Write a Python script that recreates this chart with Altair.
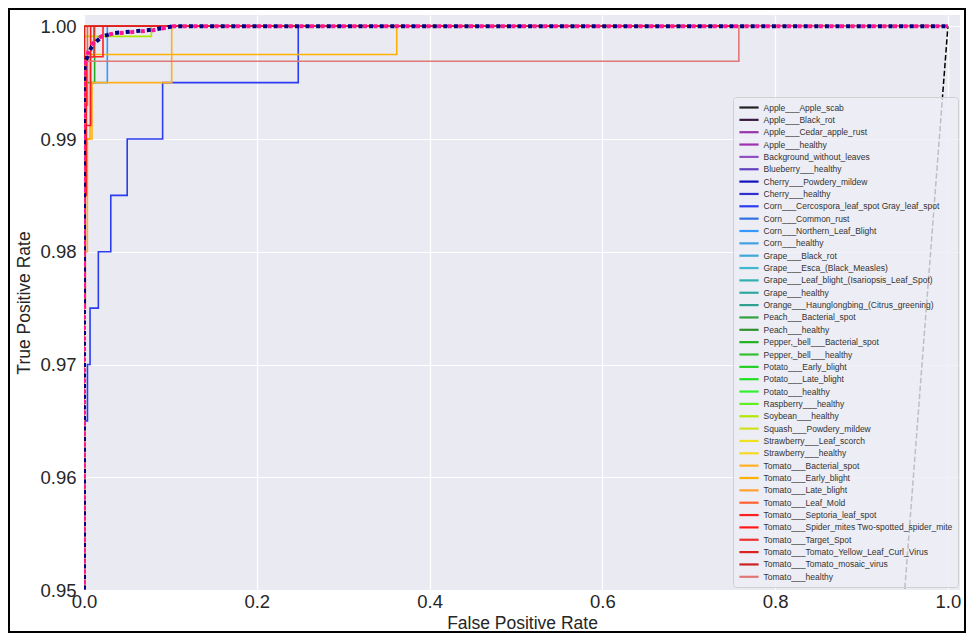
import altair as alt
import pandas as pd

classes = [
    "Apple___Apple_scab", "Apple___Black_rot", "Apple___Cedar_apple_rust", "Apple___healthy",
    "Background_without_leaves", "Blueberry___healthy", "Cherry___Powdery_mildew", "Cherry___healthy",
    "Corn___Cercospora_leaf_spot Gray_leaf_spot", "Corn___Common_rust", "Corn___Northern_Leaf_Blight",
    "Corn___healthy", "Grape___Black_rot", "Grape___Esca_(Black_Measles)",
    "Grape___Leaf_blight_(Isariopsis_Leaf_Spot)", "Grape___healthy",
    "Orange___Haunglongbing_(Citrus_greening)", "Peach___Bacterial_spot", "Peach___healthy",
    "Pepper,_bell___Bacterial_spot", "Pepper,_bell___healthy", "Potato___Early_blight",
    "Potato___Late_blight", "Potato___healthy", "Raspberry___healthy", "Soybean___healthy",
    "Squash___Powdery_mildew", "Strawberry___Leaf_scorch", "Strawberry___healthy",
    "Tomato___Bacterial_spot", "Tomato___Early_blight", "Tomato___Late_blight", "Tomato___Leaf_Mold",
    "Tomato___Septoria_leaf_spot", "Tomato___Spider_mites Two-spotted_spider_mite",
    "Tomato___Target_Spot", "Tomato___Tomato_Yellow_Leaf_Curl_Virus", "Tomato___Tomato_mosaic_virus",
    "Tomato___healthy",
]

colors = [
    "#222222", "#3a1a40", "#9933aa", "#a030b0", "#9050c0", "#6040c0", "#1010c0", "#3030d0",
    "#2b3cf0", "#3070e0", "#3399ff", "#40a0e0", "#40a8d8", "#40b8d0", "#30b0b0", "#30a8a0",
    "#30a090", "#30a040", "#309030", "#20b020", "#30c030", "#20d020", "#20e020", "#30f030",
    "#60f020", "#b0e800", "#d0e020", "#f0e020", "#f8d820", "#ffb020", "#ffb000", "#ffa030",
    "#ff6030", "#ff2020", "#ff1a1a", "#ee3030", "#dd2020", "#cc2020", "#e07878",
]

# Perfect ROC curves (most classes)
perfect_fpr = [0.0, 0.0, 1.0]
perfect_tpr = [0.0, 1.0, 1.0]

# Imperfect curves
special = {
    "Corn___Cercospora_leaf_spot Gray_leaf_spot": (
        [0.0, 0.0007, 0.0007, 0.004, 0.004, 0.007, 0.007, 0.0166, 0.0166, 0.031, 0.031, 0.050, 0.050, 0.091, 0.091, 0.248, 0.248, 1.0],
        [0.0, 0.960, 0.965, 0.965, 0.970, 0.970, 0.975, 0.975, 0.980, 0.980, 0.985, 0.985, 0.990, 0.990, 0.995, 0.995, 1.0, 1.0]),
    "Corn___Northern_Leaf_Blight": (
        [0.0, 0.0, 0.027, 0.027, 1.0],
        [0.0, 0.995, 0.995, 1.0, 1.0]),
    "Pepper,_bell___Bacterial_spot": (
        [0.0, 0.0, 0.0123, 0.0123, 1.0],
        [0.0, 0.995, 0.995, 1.0, 1.0]),
    "Soybean___healthy": (
        [0.0, 0.0, 0.078, 0.078, 1.0],
        [0.0, 0.9991, 0.9991, 1.0, 1.0]),
    "Tomato___Bacterial_spot": (
        [0.0, 0.0, 0.0039, 0.0039, 0.0093, 0.0093, 0.1015, 0.1015, 1.0],
        [0.0, 0.980, 0.980, 0.990, 0.990, 0.995, 0.995, 1.0, 1.0]),
    "Tomato___Early_blight": (
        [0.0, 0.0, 0.007, 0.007, 0.362, 0.362, 1.0],
        [0.0, 0.990, 0.990, 0.9975, 0.9975, 1.0, 1.0]),
    "Tomato___Leaf_Mold": (
        [0.0, 0.0, 0.004, 0.004, 1.0],
        [0.0, 0.993, 0.993, 1.0, 1.0]),
    "Tomato___Septoria_leaf_spot": (
        [0.0, 0.0, 0.0027, 0.0027, 0.022, 0.022, 1.0],
        [0.0, 0.985, 0.985, 0.9973, 0.9973, 1.0, 1.0]),
    "Tomato___Spider_mites Two-spotted_spider_mite": (
        [0.0, 0.0, 0.0015, 0.0015, 0.0077, 0.0077, 1.0],
        [0.0, 0.975, 0.975, 0.9912, 0.9912, 1.0, 1.0]),
    "Tomato___Target_Spot": (
        [0.0, 0.0, 0.0116, 0.0116, 1.0],
        [0.0, 0.9973, 0.9973, 1.0, 1.0]),
    "Tomato___Tomato_Yellow_Leaf_Curl_Virus": (
        [0.0, 0.0, 0.0007, 0.0007, 1.0],
        [0.0, 0.986, 0.986, 1.0, 1.0]),
    "Tomato___healthy": (
        [0.0, 0.0, 0.758, 0.758, 1.0],
        [0.0, 0.9969, 0.9969, 1.0, 1.0]),
}

micro_fpr = [0.0, 0.0, 0.0012, 0.0027, 0.0054, 0.0085, 0.0143, 0.020, 0.034, 0.080, 0.103, 1.0]
micro_tpr = [0.0, 0.9955, 0.9970, 0.9972, 0.9978, 0.9983, 0.9988, 0.9991, 0.99935, 0.99965, 1.0, 1.0]
macro_fpr = [0.0, 0.0, 0.0010, 0.0030, 0.0060, 0.0090, 0.0150, 0.021, 0.035, 0.080, 0.103, 1.0]
macro_tpr = [0.0, 0.9950, 0.9968, 0.9971, 0.9977, 0.9982, 0.9987, 0.9991, 0.9994, 0.9997, 1.0, 1.0]

diag_x = [0.0, 1.0]
diag_y = [0.0, 1.0]

rows_perfect, rows_special = [], []
for k, c in enumerate(classes):
    if c in special:
        fx, fy = special[c]
        target = rows_special
    else:
        fx, fy = perfect_fpr, perfect_tpr
        target = rows_perfect
    for i, (a, b) in enumerate(zip(fx, fy)):
        target.append({"cls": c, "k": k, "i": i, "fpr": a, "tpr": b})

df_perfect = pd.DataFrame(rows_perfect)
df_special = pd.DataFrame(rows_special)
df_avg = pd.DataFrame(
    [{"s": "micro", "i": i, "fpr": a, "tpr": b} for i, (a, b) in enumerate(zip(micro_fpr, micro_tpr))]
    + [{"s": "macro", "i": i, "fpr": a, "tpr": b} for i, (a, b) in enumerate(zip(macro_fpr, macro_tpr))]
)
df_diag = pd.DataFrame({"fpr": diag_x, "tpr": diag_y, "i": [0, 1]})

W, H = 876, 575

xs = alt.Scale(domain=[0, 1.014], nice=False, zero=False)
ys = alt.Scale(domain=[0.95, 1.001], nice=False, zero=False)

x_axis = alt.Axis(values=[0, 0.2, 0.4, 0.6, 0.8, 1.0], format=".1f", title="False Positive Rate",
                  titleY=33, titleBaseline="middle", labelPadding=2, labelFlush=False)
y_axis = alt.Axis(values=[0.95, 0.96, 0.97, 0.98, 0.99, 1.0], format=".2f", title="True Positive Rate",
                  titleX=-60, titleBaseline="middle", labelPadding=8, labelFlush=False)

legend = alt.Legend(
    orient="none", legendX=649, legendY=82, title=None,
    symbolType="M-2.4,0H2.4", symbolStrokeWidth=2.2, symbolSize=64,
    symbolOffset=5.5, symbolLimit=50,
    labelFontSize=8.5, labelFont="Liberation Sans", labelColor="#333333",
    rowPadding=2.35, padding=5, labelOffset=9, labelLimit=400,
    fillColor="rgba(238,238,245,0.8)", strokeColor="#d0d0d0", cornerRadius=3,
)

color = alt.Color("cls:N", scale=alt.Scale(domain=classes, range=colors), legend=legend, sort=classes)

diag = alt.Chart(df_diag).mark_line(clip=True, color="black", strokeDash=[5.5, 2.4], strokeWidth=1.5).encode(
    x=alt.X("fpr:Q", scale=xs, axis=x_axis),
    y=alt.Y("tpr:Q", scale=ys, axis=y_axis),
    order="i:Q",
)

perfect = alt.Chart(df_perfect).mark_line(clip=True, strokeWidth=1.6).encode(
    x=alt.X("fpr:Q", scale=xs),
    y=alt.Y("tpr:Q", scale=ys),
    color=color,
    order="i:Q",
)

imperfect = alt.Chart(df_special).mark_line(clip=True, strokeWidth=1.6).encode(
    x=alt.X("fpr:Q", scale=xs),
    y=alt.Y("tpr:Q", scale=ys),
    color=color,
    order="i:Q",
)

micro = alt.Chart(df_avg[df_avg.s == "micro"]).mark_line(
    clip=True, color="#ff1493", strokeWidth=4, strokeDash=[4, 6.6]).encode(
    x=alt.X("fpr:Q", scale=xs), y=alt.Y("tpr:Q", scale=ys), order="i:Q")

macro = alt.Chart(df_avg[df_avg.s == "macro"]).mark_line(
    clip=True, color="#000080", strokeWidth=4, strokeDash=[4, 6.6], strokeDashOffset=5.3).encode(
    x=alt.X("fpr:Q", scale=xs), y=alt.Y("tpr:Q", scale=ys), order="i:Q")

border = alt.Chart(pd.DataFrame({"a": [0]})).mark_rect(
    filled=False, stroke="black", strokeWidth=2).encode(
    x=alt.value(-75), x2=alt.value(881), y=alt.value(-6), y2=alt.value(617))

chart = alt.layer(diag, perfect, imperfect, micro, macro, border).properties(
    width=W, height=H,
    autosize=alt.AutoSizeParams(type="none"),
    padding={"left": 76, "top": 7, "right": 6, "bottom": 43},
    background="white",
).configure_view(
    fill="#EAEAF2", stroke=None,
).configure_axis(
    domain=False, ticks=False, tickSize=0, grid=True, gridColor="white", gridWidth=1.2,
    labelFont="Liberation Sans", titleFont="Liberation Sans",
    labelFontSize=18.5, titleFontSize=17.5, titleFontWeight="normal",
    labelColor="#262626", titleColor="#262626",
)

chart.save("out.html", embed_options={"renderer": "svg", "actions": False})
